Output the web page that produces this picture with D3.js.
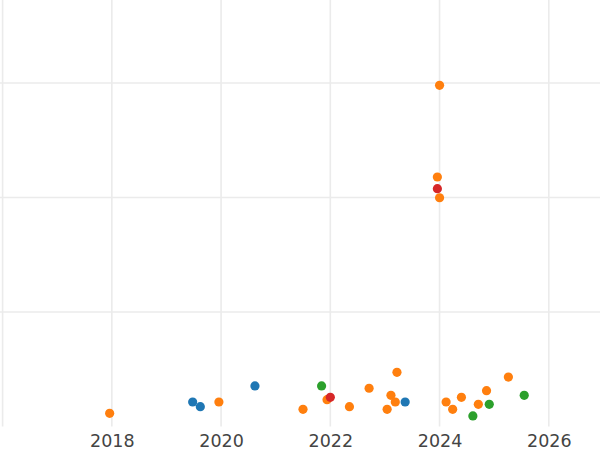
<!DOCTYPE html>
<html>
<head>
<meta charset="utf-8">
<script src="https://cdn.jsdelivr.net/npm/d3@7"></script>
<style>
  body { margin: 0; background: #fff; }
  svg { display: block; }
</style>
</head>
<body>
<script>
// Series data: [year, value]
const blueYears = [2019.48, 2019.62, 2020.62, 2023.37];
const blueValues = [214, 173, 354, 214];

const orangeYears = [2017.96, 2019.96, 2021.50, 2021.94, 2022.35, 2022.71, 2023.04, 2023.11,
  2023.22, 2023.19, 2024.12, 2024.24, 2024.40, 2024.71, 2024.86, 2025.26, 2024.00, 2023.96, 2024.00];
const orangeValues = [115, 214, 150, 234, 173, 334, 150, 272,
  473, 214, 214, 150, 255, 194, 313, 432, 2980, 2179, 1998];

const greenYears = [2021.84, 2024.61, 2024.91, 2025.55];
const greenValues = [354, 92, 194, 272];

const redYears = [2023.96, 2022.00];
const redValues = [2077, 255];

const xTicks = [2016, 2018, 2020, 2022, 2024, 2026];
const yTicks = [1000, 2000, 3000];

const series = [
  { color: '#1f77b4', xs: blueYears, ys: blueValues },
  { color: '#ff7f0e', xs: orangeYears, ys: orangeValues },
  { color: '#2ca02c', xs: greenYears, ys: greenValues },
  { color: '#d62728', xs: redYears, ys: redValues }
];

const width = 600;
const height = 450;
const plotBottom = 426.5;

const svg = d3.select('body')
  .append('svg')
  .attr('width', width)
  .attr('height', height);

const x = d3.scaleLinear()
  .domain([2016, 2026])
  .range([2.6, 548.8]);

const y = d3.scaleLinear()
  .domain([0, 3000])
  .range([plotBottom, 83]);

// Grid
const grid = svg.append('g');

grid.selectAll('line.h')
  .data(yTicks)
  .enter()
  .append('line')
  .attr('class', 'h')
  .attr('x1', 0)
  .attr('x2', width)
  .attr('y1', d => y(d))
  .attr('y2', d => y(d))
  .attr('stroke', '#ebebeb')
  .attr('stroke-width', 1.6);

grid.selectAll('line.v')
  .data(xTicks)
  .enter()
  .append('line')
  .attr('class', 'v')
  .attr('x1', d => x(d))
  .attr('x2', d => x(d))
  .attr('y1', 0)
  .attr('y2', plotBottom)
  .attr('stroke', '#ebebeb')
  .attr('stroke-width', 1.6);

// X axis labels
const xAxis = d3.axisBottom(x)
  .tickValues(xTicks.slice(1))
  .tickFormat(d3.format('d'))
  .tickSize(0)
  .tickPadding(0);

svg.append('g')
  .attr('transform', `translate(0, ${plotBottom})`)
  .call(xAxis)
  .call(g => g.select('.domain').remove())
  .call(g => g.selectAll('text')
    .attr('dy', null)
    .attr('y', 20.5)
    .attr('fill', '#444')
    .style('font-family', '"DejaVu Sans", sans-serif')
    .style('font-size', '17.5px'));

// Points
series.forEach(s => {
  svg.append('g')
    .selectAll('circle')
    .data(s.xs.map((d, i) => [d, s.ys[i]]))
    .enter()
    .append('circle')
    .attr('cx', d => x(d[0]))
    .attr('cy', d => y(d[1]))
    .attr('r', 4.6)
    .attr('fill', s.color);
});
</script>
</body>
</html>
